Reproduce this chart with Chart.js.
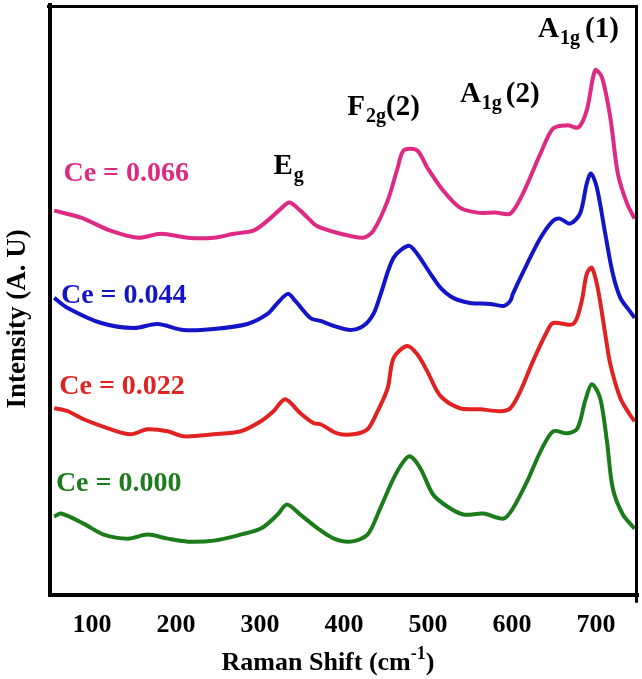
<!DOCTYPE html>
<html><head><meta charset="utf-8">
<script src="https://cdn.jsdelivr.net/npm/chart.js@4.4.1/dist/chart.umd.min.js"></script>
<style>html,body{margin:0;padding:0;background:#fff}#wrap{width:642px;height:679px}</style>
</head><body><div id="wrap"><canvas id="c" width="642" height="679"></canvas></div>
<script>
// ---------- data ----------
const xTickValues = [100, 200, 300, 400, 500, 600, 700];
const seriesNames = ['Ce = 0.000', 'Ce = 0.022', 'Ce = 0.044', 'Ce = 0.066'];

const shift000 = [55,63,90,114,143,166,190,214,245,277,301,321,332,348,369,388,408,428,443,459,471,479,491,506,523,542,566,590,601,618,634,649,666,678,687,695,705,713,720,732,746];
const int000   = [78,81,71,60,56,60,56,53,54,60,66,80,90,80,66,56,53,60,86,116,133,138,126,100,88,80,81,76,86,113,143,163,161,166,193,210,196,153,106,80,66];

const shift022 = [55,71,90,119,146,166,190,209,245,277,301,316,330,348,364,372,392,411,428,440,452,459,475,487,499,515,538,562,586,598,610,625,642,649,673,683,689,695,702,711,717,729,740,746];
const int022   = [186,183,175,166,160,165,163,158,160,163,173,183,195,181,171,170,161,160,165,183,206,236,248,240,223,198,186,185,183,186,203,233,263,271,270,293,320,326,306,260,230,196,180,173];

const shift044 = [55,71,111,150,178,209,245,285,309,320,333,342,360,372,388,408,423,435,443,459,477,487,503,515,530,550,574,590,598,601,618,634,649,657,669,681,689,694,701,711,720,729,740,746];
const int044   = [296,286,271,266,270,264,265,270,280,290,300,293,276,273,268,264,268,280,298,336,348,340,320,306,296,291,290,288,293,300,330,356,373,375,370,380,410,420,406,360,320,296,283,276];

const shift066 = [55,87,122,155,182,214,245,269,292,309,325,335,348,364,372,396,423,435,452,464,471,487,499,518,538,559,582,598,613,634,649,666,679,689,699,707,717,726,737,746];
const int066   = [383,376,363,356,360,356,356,360,363,373,385,391,383,370,366,360,356,363,393,426,443,443,426,403,386,381,381,380,400,440,465,468,466,483,523,516,476,420,390,375];

// ---------- styles / annotation placement ----------
const colors = ['#1c7c1c', '#e02222', '#1515c8', '#df2a84'];
const FONT = "'Liberation Serif', 'Times New Roman', serif";
// Ce labels: [left x (cm-1), baseline (a.u.)]
const ceLabelPos = [[57, 103], [61, 200], [63, 291], [66, 413]];
// Peak labels: main letter, subscript, suffix, anchor [x, baseline]
const peakLabels = [
  {main: 'E', sub: 'g', suf: '', at: [316, 420]},
  {main: 'F', sub: '2g', suf: '(2)', at: [404, 478], gap: 0},
  {main: 'A', sub: '1g', suf: '(2)', at: [538, 491], gap: 4},
  {main: 'A', sub: '1g', suf: '(1)', at: [631, 556], gap: 5}
];

const shifts = [shift000, shift022, shift044, shift066];
const ints = [int000, int022, int044, int066];

const datasets = seriesNames.map((n, i) => ({
  label: n,
  data: shifts[i].map((x, k) => ({x: x, y: ints[i][k]})),
  borderColor: colors[i],
  backgroundColor: colors[i],
  borderWidth: 4,
  pointRadius: 0,
  tension: 0.3,
  fill: false
}));

const annotate = {
  id: 'annotate',
  afterDraw(chart) {
    const {ctx, chartArea: a, scales: {x, y}} = chart;
    ctx.save();
    // top and right frame lines
    ctx.strokeStyle = '#000';
    ctx.lineWidth = 3;
    ctx.beginPath();
    ctx.moveTo(a.left - 3, a.top + 1.5);
    ctx.lineTo(a.right - 1.5, a.top + 1.5);
    ctx.lineTo(a.right - 1.5, a.bottom + 8);
    ctx.stroke();

    ctx.textBaseline = 'alphabetic';
    ctx.textAlign = 'left';
    // Ce labels
    seriesNames.forEach((n, i) => {
      ctx.fillStyle = colors[i];
      ctx.font = 'bold 28px ' + FONT;
      ctx.fillText(n, x.getPixelForValue(ceLabelPos[i][0]), y.getPixelForValue(ceLabelPos[i][1]));
    });
    // peak labels
    ctx.fillStyle = '#000';
    peakLabels.forEach(p => {
      let px = x.getPixelForValue(p.at[0]);
      const py = y.getPixelForValue(p.at[1]);
      ctx.font = 'bold 29px ' + FONT;
      ctx.fillText(p.main, px, py);
      px += ctx.measureText(p.main).width + 1;
      ctx.font = 'bold 20px ' + FONT;
      ctx.fillText(p.sub, px, py + 7);
      px += ctx.measureText(p.sub).width + (p.gap || 0);
      if (p.suf) {
        ctx.font = 'bold 29px ' + FONT;
        ctx.fillText(p.suf, px, py);
      }
    });
    // x axis title with superscript
    const xt = ['Raman Shift (cm', '-1', ')'];
    ctx.font = 'bold 26px ' + FONT;
    const w0 = ctx.measureText(xt[0]).width;
    const w2 = ctx.measureText(xt[2]).width;
    ctx.font = 'bold 18px ' + FONT;
    const w1 = ctx.measureText(xt[1]).width;
    let tx = 328 - (w0 + w1 + w2) / 2;
    const ty = 670;
    ctx.font = 'bold 26px ' + FONT;
    ctx.fillText(xt[0], tx, ty); tx += w0;
    ctx.font = 'bold 18px ' + FONT;
    ctx.fillText(xt[1], tx, ty - 11); tx += w1;
    ctx.font = 'bold 26px ' + FONT;
    ctx.fillText(xt[2], tx, ty);
    // y axis title
    ctx.save();
    ctx.translate(18, 319);
    ctx.rotate(-Math.PI / 2);
    ctx.textAlign = 'center';
    ctx.textBaseline = 'middle';
    ctx.font = 'bold 27px ' + FONT;
    ctx.fillText('Intensity (A. U)', 0, 0);
    ctx.restore();
    ctx.restore();
  }
};

new Chart(document.getElementById('c'), {
  type: 'line',
  data: {datasets: datasets},
  options: {
    responsive: false,
    animation: false,
    devicePixelRatio: 1,
    layout: {padding: {top: 5, right: 4, left: 50, bottom: 23}},
    plugins: {legend: {display: false}, tooltip: {enabled: false}},
    scales: {
      x: {
        type: 'linear', min: 50, max: 750,
        afterBuildTicks: s => { s.ticks = xTickValues.map(v => ({value: v})); },
        grid: {display: false, drawTicks: false},
        border: {display: true, color: '#000', width: 4},
        ticks: {color: '#000', padding: 15, font: {family: FONT, size: 26, weight: 'bold'}}
      },
      y: {
        type: 'linear', min: 0, max: 588,
        grid: {display: false, drawTicks: false},
        border: {display: true, color: '#000', width: 4},
        ticks: {display: false}
      }
    }
  },
  plugins: [annotate]
});
</script>
</body></html>
